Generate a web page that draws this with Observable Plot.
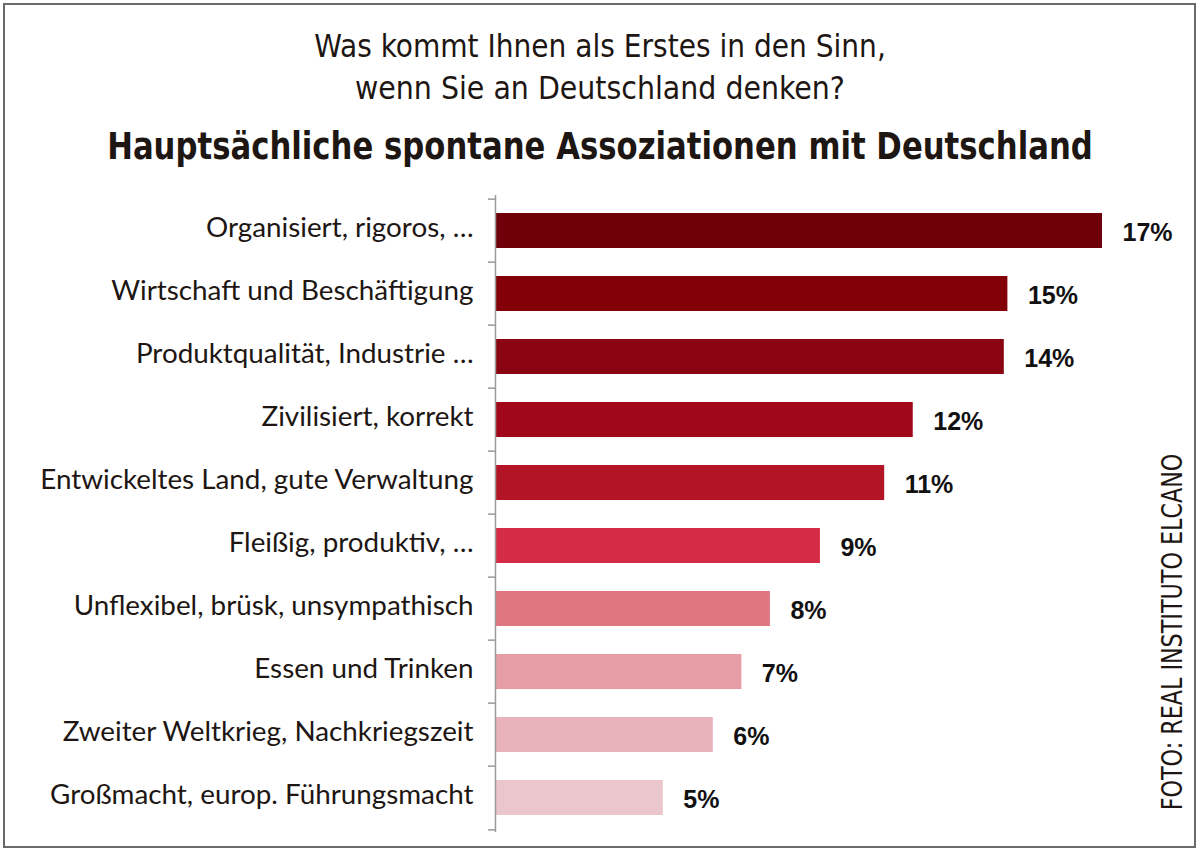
<!DOCTYPE html>
<html>
<head>
<meta charset="utf-8">
<script src="https://cdn.jsdelivr.net/npm/d3@7"></script>
<script src="https://cdn.jsdelivr.net/npm/@observablehq/plot@0.6"></script>
<style>
  html, body { margin: 0; padding: 0; background: #fff; }
  #page { position: relative; width: 1200px; height: 853px; overflow: hidden; background: #fff; }
  #frame { position: absolute; left: 3px; top: 3px; width: 1189px; height: 841px; border: 2px solid #6a6a6a; }
  .t { position: absolute; left: 600px; white-space: nowrap; color: #1d1613; transform-origin: center center; }
  #sub1, #sub2 { font-family: "DejaVu Sans Condensed", "DejaVu Sans", sans-serif; font-size: 32px; line-height: 32px; }
  #sub1 { top: 30px; }
  #sub2 { top: 72px; }
  #title { top: 129px; font-family: "DejaVu Sans Condensed", "DejaVu Sans", sans-serif; font-weight: bold; font-size: 37px; line-height: 36px; }
  #caption { position: absolute; left: 1172px; top: 632px; white-space: nowrap; color: #1d1613;
             font-family: "DejaVu Sans Condensed", "DejaVu Sans", sans-serif; font-size: 28px; line-height: 27px; }
  #chart { position: absolute; left: 0; top: 180px; }
</style>
</head>
<body>
<div id="page">
  <div id="frame"></div>
  <div class="t" id="sub1">Was kommt Ihnen als Erstes in den Sinn,</div>
  <div class="t" id="sub2">wenn Sie an Deutschland denken?</div>
  <div class="t" id="title">Hauptsächliche spontane Assoziationen mit Deutschland</div>
  <div id="caption">FOTO: REAL INSTITUTO ELCANO</div>
  <div id="chart"></div>
</div>
<script>
const categories = [
  "Organisiert, rigoros, …",
  "Wirtschaft und Beschäftigung",
  "Produktqualität, Industrie …",
  "Zivilisiert, korrekt",
  "Entwickeltes Land, gute Verwaltung",
  "Fleißig, produktiv, …",
  "Unflexibel, brüsk, unsympathisch",
  "Essen und Trinken",
  "Zweiter Weltkrieg, Nachkriegszeit",
  "Großmacht, europ. Führungsmacht"
];
// bar lengths as drawn in the picture (percent)
const values = [17, 14.35, 14.25, 11.7, 10.9, 9.1, 7.7, 6.9, 6.1, 4.7];
// printed value labels
const valueLabels = ["17%", "15%", "14%", "12%", "11%", "9%", "8%", "7%", "6%", "5%"];

const palette = ["#6f0009", "#830009", "#8a0511", "#a0081a", "#b31526",
                 "#d52b47", "#e0767f", "#e69da6", "#e8b3ba", "#ebc6ca"];

const data = categories.map((c, i) => ({category: c, value: values[i], label: valueLabels[i]}));

const H = 670, MT = 15, MB = 18;
const half = (H - MT - MB) / categories.length / 2;

const chart = Plot.plot({
  width: 1200,
  height: H,
  marginTop: MT,
  marginBottom: MB,
  marginLeft: 495,
  marginRight: 98,
  style: {background: "transparent", overflow: "visible"},
  x: {domain: [0, 17], axis: null},
  y: {domain: categories, paddingInner: 0.45, paddingOuter: 0.225, axis: null},
  color: {domain: categories, range: palette},
  marks: [
    Plot.barX(data, {x: "value", y: "category", fill: "category"}),
    Plot.ruleX([0], {stroke: "#9a9a9a", strokeWidth: 1.5}),
    Plot.axisY({tickSize: 0, tickPadding: 22, dy: -3, fontSize: 27.8, fontFamily: "Lato, 'Open Sans', sans-serif", fill: "#1d1613", label: null}),
    Plot.axisY({text: null, tickSize: 7, dy: -half, stroke: "#9a9a9a", strokeWidth: 1.5, label: null}),
    Plot.axisY({ticks: [categories[categories.length - 1]], text: null, tickSize: 7, dy: half, stroke: "#9a9a9a", strokeWidth: 1.5, label: null}),
    Plot.text(data, {x: "value", y: "category", text: "label", dx: 20, dy: 2, textAnchor: "start",
      fontWeight: "bold", fontSize: 25, fontFamily: "'Liberation Sans', Arial, sans-serif", fill: "#111"})
  ]
});
document.getElementById("chart").appendChild(chart);

function fit(id, target) {
  const el = document.getElementById(id);
  const w = el.offsetWidth;
  el.style.transform = `translateX(-50%) scaleX(${target / w})`;
}
fit("sub1", 572);
fit("sub2", 490);
fit("title", 986);
(function () {
  const el = document.getElementById("caption");
  const w = el.offsetWidth;
  el.style.transform = `translate(-50%, -50%) rotate(-90deg) scaleX(${357 / w})`;
})();
</script>
</body>
</html>
